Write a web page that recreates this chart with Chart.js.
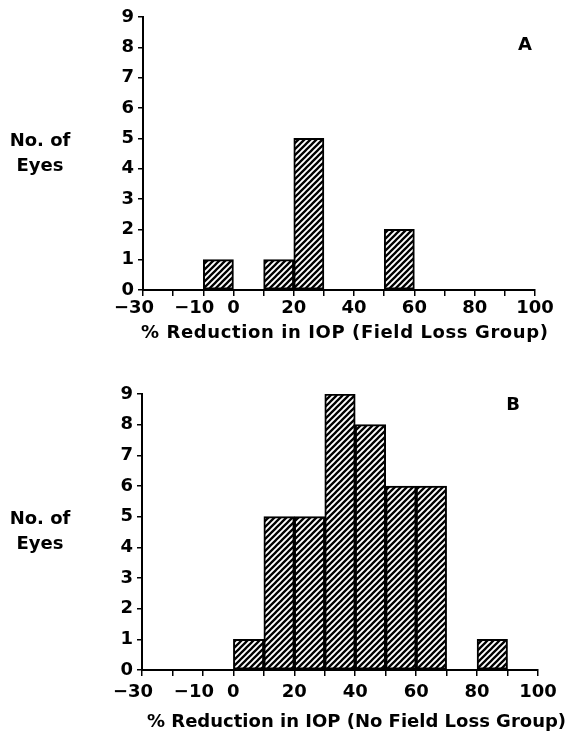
<!DOCTYPE html>
<html>
<head>
<meta charset="utf-8">
<script src="https://cdn.jsdelivr.net/npm/chart.js@4.4.1/dist/chart.umd.min.js"></script>
<style>
  html, body { margin: 0; padding: 0; background: #fff; }
  canvas { display: block; }
</style>
</head>
<body>
<canvas id="chartA" width="570" height="372"></canvas>
<canvas id="chartB" width="570" height="372"></canvas>
<script>
// Histogram bins: left edge of each 10% bin, and number of eyes in it
const binWidth = 10;
const binStartsA = [-10, 10, 20, 50];
const countsA = [1, 1, 5, 2];
const binStartsB = [0, 10, 20, 30, 40, 50, 60, 80];
const countsB = [1, 5, 5, 9, 8, 6, 6, 1];

// Ticks every 10 on x, only these carry a label
const xTickLabels = [-30, -10, 0, 20, 40, 60, 80, 100];

const yTitle = ['No. of', 'Eyes'];
const xTitleA = '% Reduction in IOP (Field Loss Group)';
const xTitleB = '% Reduction in IOP (No Field Loss Group)';

const FONT = { family: '"DejaVu Sans", sans-serif', size: 18, weight: 'bold' };

// diagonal hatch used to fill the bars
function hatch(ctx) {
    const size = 6;
    const tile = document.createElement('canvas');
    tile.width = size;
    tile.height = size;
    const g = tile.getContext('2d');
    g.fillStyle = '#fff';
    g.fillRect(0, 0, size, size);
    g.strokeStyle = '#000';
    g.lineWidth = 2.3;
    g.beginPath();
    g.moveTo(0, size); g.lineTo(size, 0);
    g.moveTo(-size / 2, size / 2); g.lineTo(size / 2, -size / 2);
    g.moveTo(size / 2, size * 1.5); g.lineTo(size * 1.5, size / 2);
    g.stroke();
    return ctx.createPattern(tile, 'repeat');
}

// negative labels: the minus hangs left of the tick, digits stay centred
function xLabel(v) {
    if (!xTickLabels.includes(v)) return '';
    return v < 0 ? '\u2212' + Math.abs(v) + '\u2003' : String(v);
}

// axis titles and panel letter, drawn as plain text
const panelText = {
    id: 'panelText',
    afterDraw(chart, args, o) {
        const { ctx, chartArea } = chart;
        ctx.save();
        ctx.fillStyle = '#000';
        ctx.font = 'bold 18px "DejaVu Sans", sans-serif';
        ctx.textBaseline = 'middle';
        ctx.textAlign = 'center';
        const midY = (chartArea.top + chartArea.bottom) / 2;
        yTitle.forEach((line, i) => ctx.fillText(line, 40, midY + (i - 0.5) * 25));
        ctx.fillText(o.letter, o.letterX, o.letterY);
        ctx.textAlign = 'left';
        ctx.letterSpacing = o.xTitleSpacing;
        ctx.fillText(o.xTitle, o.xTitleX, o.xTitleY);
        ctx.restore();
    }
};

function makeChart(id, starts, counts, o) {
    const ctx = document.getElementById(id).getContext('2d');
    const points = starts.map((s, i) => ({ x: s + binWidth / 2, y: counts[i] }));
    return new Chart(ctx, {
        type: 'bar',
        data: {
            datasets: [{
                data: points,
                backgroundColor: hatch(ctx),
                borderColor: '#000',
                borderWidth: 2,
                borderSkipped: false,
                barPercentage: 1,
                categoryPercentage: 1
            }]
        },
        options: {
            responsive: false,
            animation: false,
            layout: { padding: o.padding },
            plugins: {
                legend: { display: false },
                tooltip: { enabled: false },
                panelText: o
            },
            scales: {
                x: {
                    type: 'linear',
                    min: -30,
                    max: 100,
                    offset: false,
                    grid: { offset: false, drawOnChartArea: false, drawTicks: true, tickLength: 6, tickColor: '#000', lineWidth: 1.5 },
                    border: { color: '#000', width: 2 },
                    ticks: {
                        stepSize: 10,
                        autoSkip: false,
                        maxRotation: 0,
                        padding: o.xTickPad,
                        color: '#000',
                        font: FONT,
                        callback: xLabel
                    },
                    afterFit: s => { s.height = o.xHeight; }
                },
                y: {
                    min: 0,
                    max: 9,
                    grid: { drawOnChartArea: false, drawTicks: true, tickLength: 5, tickColor: '#000', lineWidth: 1.5 },
                    border: { color: '#000', width: 2 },
                    ticks: { stepSize: 1, padding: 4, color: '#000', font: FONT },
                    afterFit: s => { s.width = o.yWidth; }
                }
            }
        },
        plugins: [panelText]
    });
}

makeChart('chartA', binStartsA, countsA, {
    padding: { top: 17, right: 35, left: 0, bottom: 0 },
    yWidth: 143, xHeight: 82, xTickPad: 2,
    letter: 'A', letterX: 525, letterY: 45,
    xTitle: xTitleA, xTitleX: 141, xTitleY: 333, xTitleSpacing: '0.6px'
});

makeChart('chartB', binStartsB, countsB, {
    padding: { top: 22, right: 32, left: 0, bottom: 0 },
    yWidth: 142, xHeight: 74, xTickPad: 6,
    letter: 'B', letterX: 513, letterY: 33,
    xTitle: xTitleB, xTitleX: 147, xTitleY: 350, xTitleSpacing: '0px'
});
</script>
</body>
</html>
